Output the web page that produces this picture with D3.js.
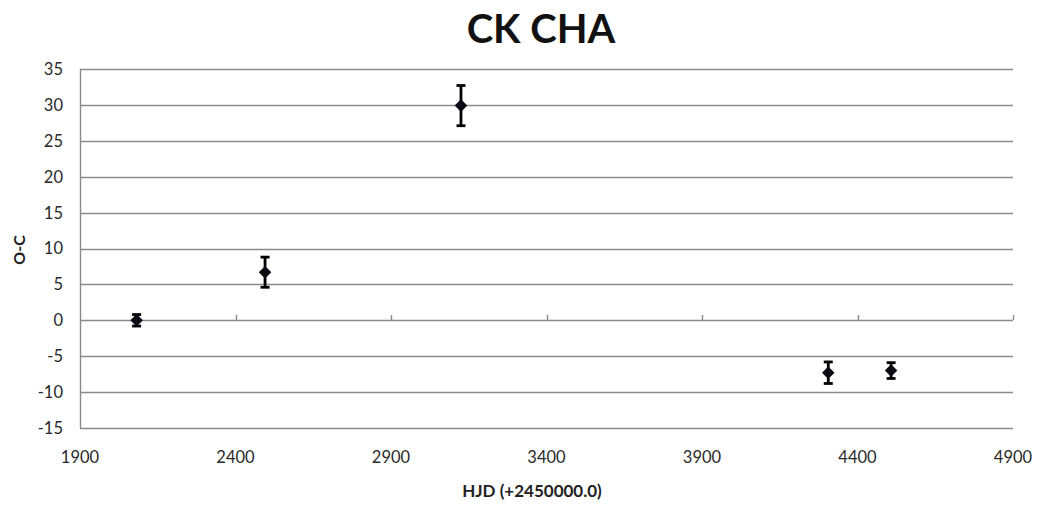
<!DOCTYPE html>
<html>
<head>
<meta charset="utf-8">
<script src="https://cdn.jsdelivr.net/npm/d3@7"></script>
<style>
  html, body { margin: 0; padding: 0; background: #fff; }
  svg { display: block; }
</style>
</head>
<body>
<svg id="chart" width="1040" height="511"></svg>
<script>
// O-C timing residuals for CK Cha
const hjd    = [2082, 2495, 3125, 4306, 4508];
const oc     = [0.0, 6.7, 29.9, -7.3, -7.0];
const ocErr  = [0.8, 2.1, 2.8, 1.5, 1.1];
const xTicks = [1900, 2400, 2900, 3400, 3900, 4400, 4900];
const yTicks = [-15, -10, -5, 0, 5, 10, 15, 20, 25, 30, 35];

(function () {
const svg = d3.select("#chart");
const plotLeft = 80, plotRight = 1013, plotTop = 69, plotBottom = 428;

const x = d3.scaleLinear().domain([1900, 4900]).range([plotLeft, plotRight]);
const y = d3.scaleLinear().domain([-15, 35]).range([plotBottom, plotTop]);

const font = "Lato, 'Open Sans', sans-serif";

// horizontal gridlines
svg.append("g").selectAll("line").data(yTicks).join("line")
  .attr("x1", plotLeft).attr("x2", plotRight)
  .attr("y1", d => Math.round(y(d)) + 0.5).attr("y2", d => Math.round(y(d)) + 0.5)
  .attr("stroke", "#8a8a8a").attr("stroke-width", 1.4);

// vertical value axis
svg.append("line")
  .attr("x1", plotLeft + 0.5).attr("x2", plotLeft + 0.5)
  .attr("y1", y(35)).attr("y2", y(-15))
  .attr("stroke", "#8a8a8a").attr("stroke-width", 1.4);

// y tick labels
svg.append("g").selectAll("text").data(yTicks).join("text")
  .attr("x", plotLeft - 17).attr("y", d => y(d)).attr("dy", "0.36em")
  .attr("text-anchor", "end")
  .attr("font-family", font).attr("font-size", 16.5).attr("fill", "#2a2a2a")
  .text(d => d);

// x axis crosses at zero; tick marks point upward
svg.append("g").selectAll("line").data(xTicks.slice(1)).join("line")
  .attr("x1", d => Math.round(x(d)) + 0.5).attr("x2", d => Math.round(x(d)) + 0.5)
  .attr("y1", Math.round(y(0))).attr("y2", Math.round(y(0)) - 5)
  .attr("stroke", "#8a8a8a").attr("stroke-width", 1.4);

// x tick labels set below the plot
svg.append("g").selectAll("text").data(xTicks).join("text")
  .attr("x", d => x(d)).attr("y", 463)
  .attr("text-anchor", "middle")
  .attr("font-family", font).attr("font-size", 16.5).attr("fill", "#2a2a2a")
  .text(d => d);

// error bars
const pts = hjd.map((h, i) => ({ h, v: oc[i], e: ocErr[i] }));
const eb = svg.append("g").attr("stroke", "#000").attr("stroke-width", 2.8);
pts.forEach(p => {
  const cx = x(p.h);
  eb.append("line").attr("x1", cx).attr("x2", cx).attr("y1", y(p.v + p.e)).attr("y2", y(p.v - p.e));
  eb.append("line").attr("x1", cx - 4.5).attr("x2", cx + 4.5).attr("y1", y(p.v + p.e)).attr("y2", y(p.v + p.e));
  eb.append("line").attr("x1", cx - 4.5).attr("x2", cx + 4.5).attr("y1", y(p.v - p.e)).attr("y2", y(p.v - p.e));
});

// diamond markers
svg.append("g").selectAll("path").data(pts).join("path")
  .attr("d", d3.symbol(d3.symbolDiamond2, 100))
  .attr("transform", d => `translate(${x(d.h)},${y(d.v)})`)
  .attr("fill", "#0a0a14");

// titles
svg.append("text")
  .attr("x", 541).attr("y", 43).attr("text-anchor", "middle")
  .attr("font-family", font).attr("font-weight", "bold").attr("font-size", 40).attr("fill", "#111")
  .text("CK CHA");

svg.append("text")
  .attr("x", 532).attr("y", 497).attr("text-anchor", "middle")
  .attr("font-family", font).attr("font-weight", "bold").attr("font-size", 17).attr("fill", "#222")
  .text("HJD (+2450000.0)");

svg.append("text")
  .attr("transform", "translate(25,250) rotate(-90)")
  .attr("text-anchor", "middle")
  .attr("font-family", font).attr("font-weight", "bold").attr("font-size", 16).attr("fill", "#222")
  .text("O-C");
})();
</script>
</body>
</html>
